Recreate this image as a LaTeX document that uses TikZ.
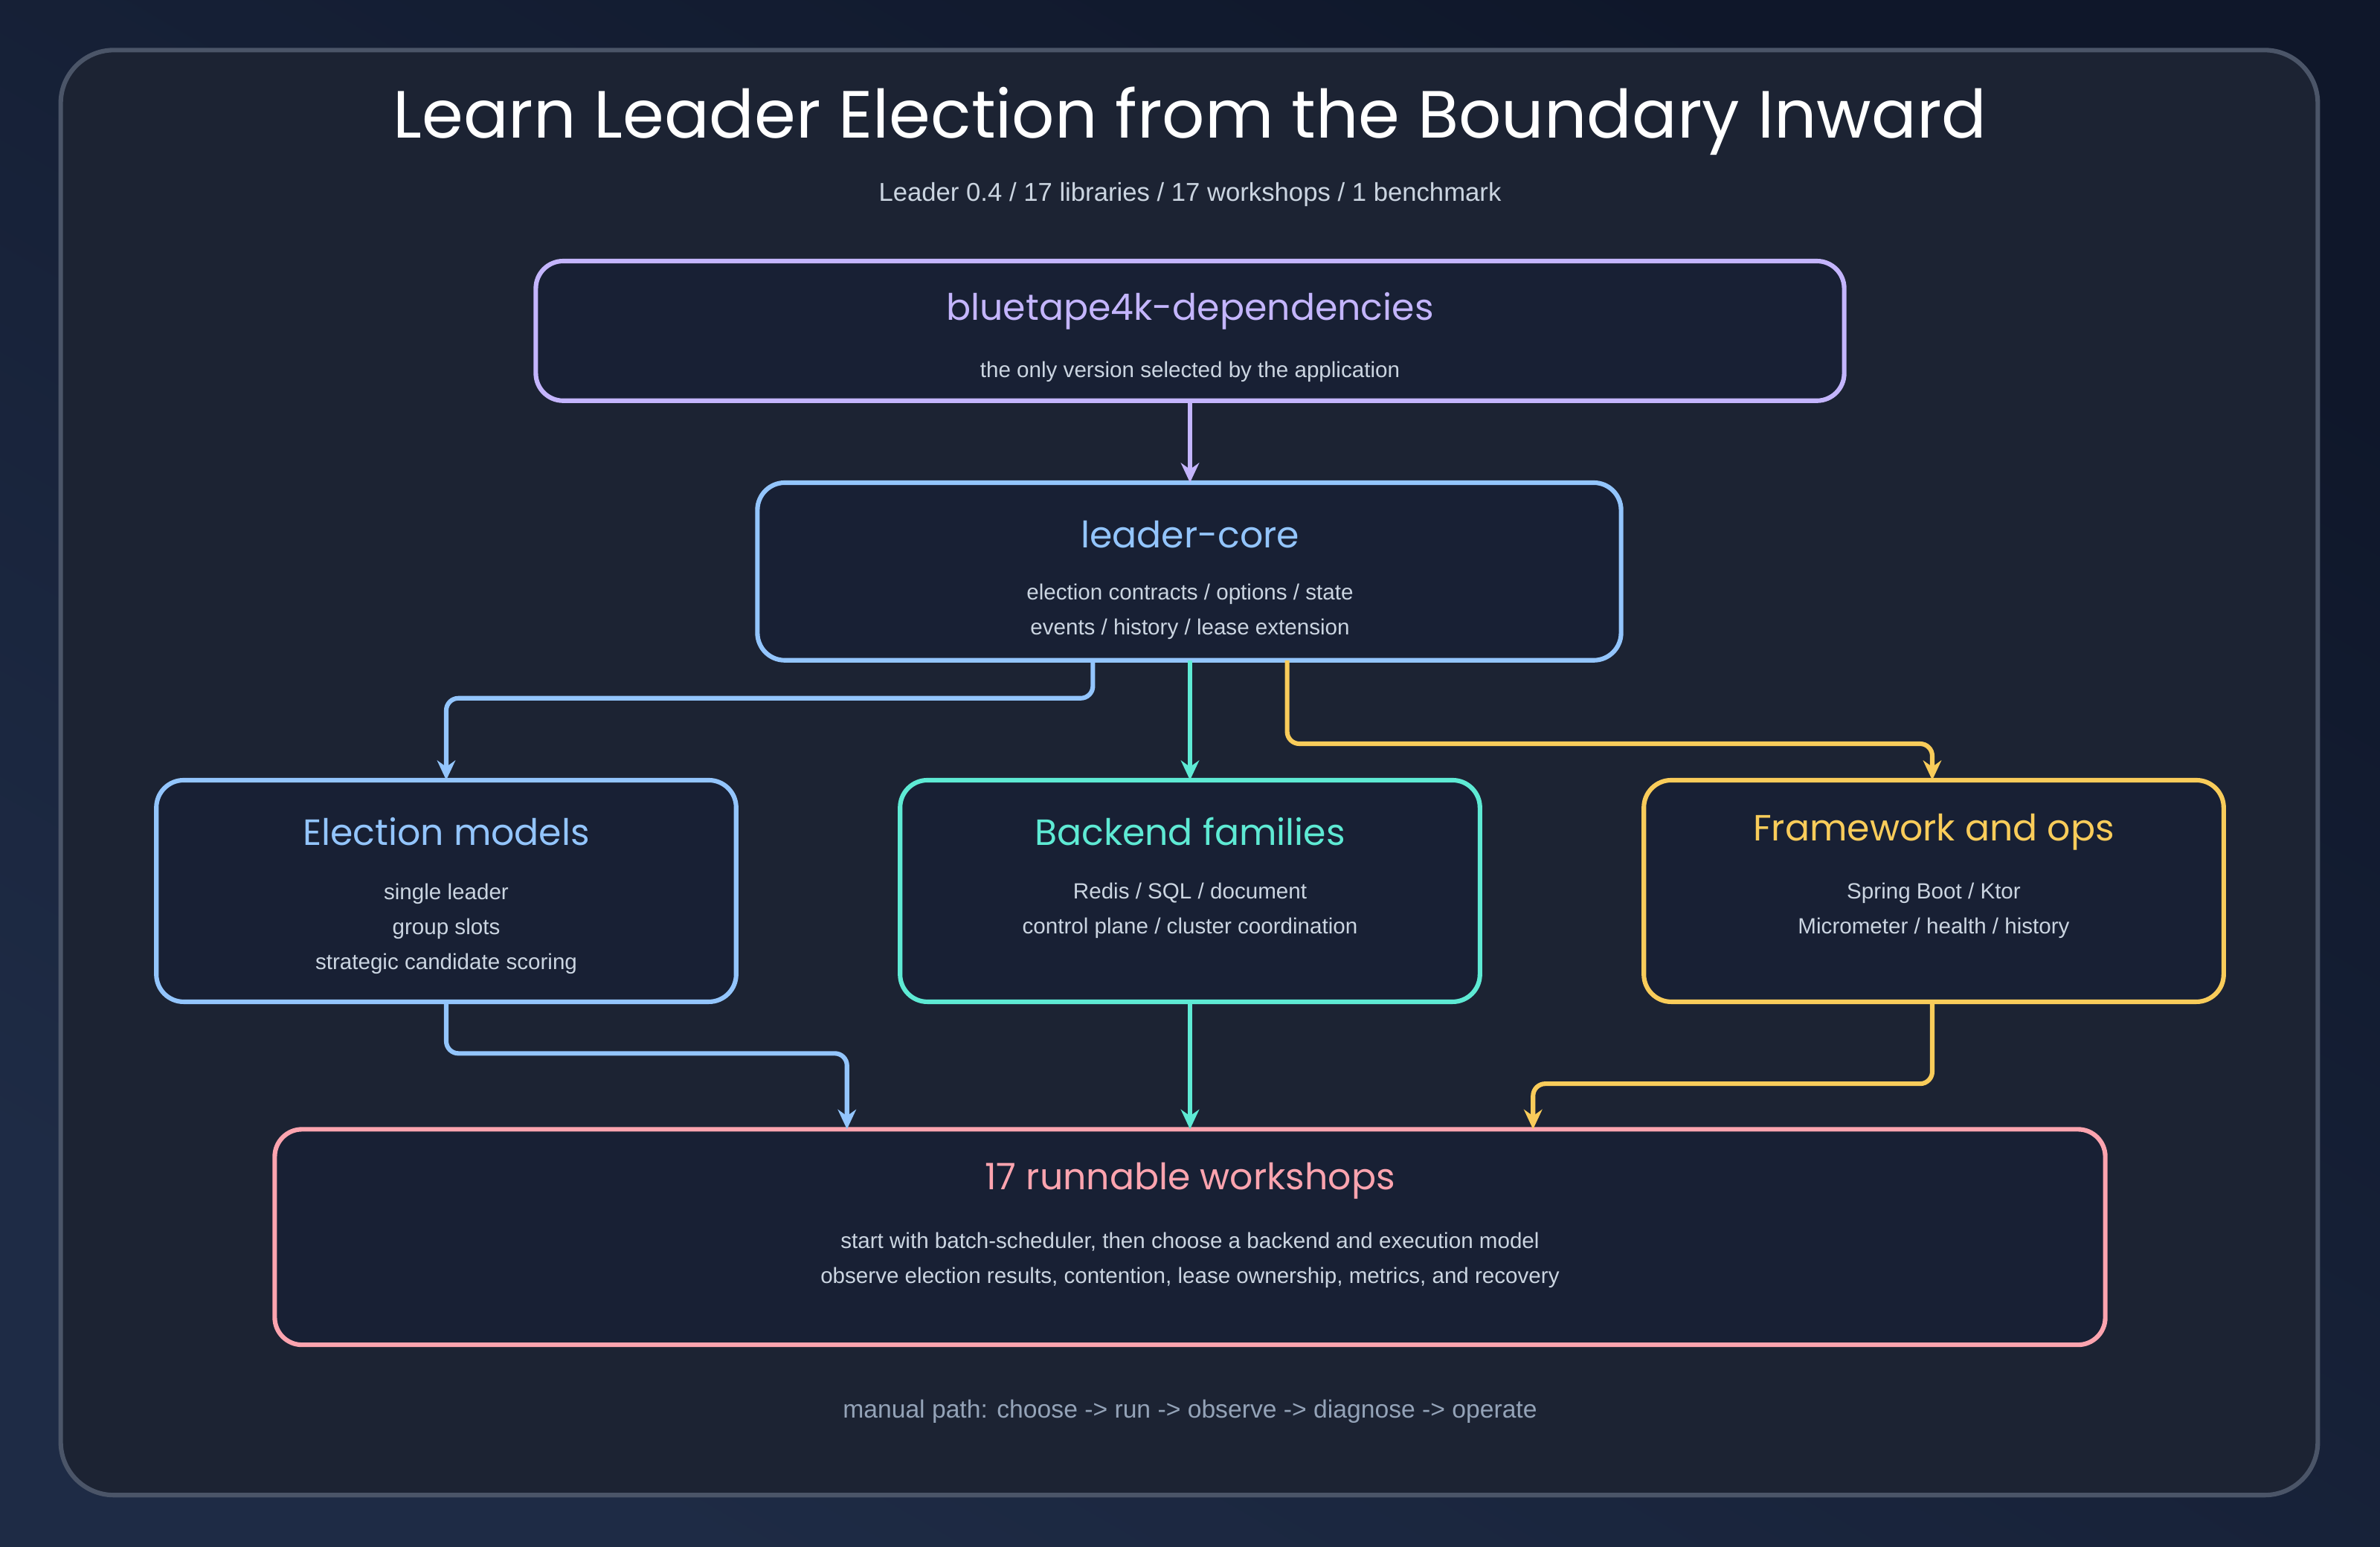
\documentclass[tikz,border=0pt]{standalone}
\usepackage{fontspec}
\usetikzlibrary{arrows.meta}
\setmainfont{Liberation Sans}
\newfontfamily\headfont{Poppins}
\begin{document}
\begin{tikzpicture}[x=1pt,y=-1pt,
  box/.style={draw=#1,line width=3pt,rounded corners=18pt,fill=boxbg},
  ttl/.style={font=\headfont\fontsize{24}{28}\selectfont,text=#1},
  sub/.style={font=\fontsize{14.5}{17}\selectfont,text=subc,align=center},
  arr/.style={draw=#1,line width=3pt,rounded corners=8pt,-{Stealth[length=13pt,width=12pt]}}]
\definecolor{bgA}{HTML}{0F172A}\definecolor{bgB}{HTML}{1E2B45}
\definecolor{panel}{HTML}{1C2333}\definecolor{boxbg}{HTML}{182034}
\definecolor{edge}{HTML}{4B5568}\definecolor{subc}{HTML}{CBD5E1}
\definecolor{pur}{HTML}{C4B5FD}\definecolor{blu}{HTML}{93C5FD}
\definecolor{tea}{HTML}{5EEAD4}\definecolor{yel}{HTML}{F9CC5A}
\definecolor{pnk}{HTML}{FDA4AF}\definecolor{foot}{HTML}{94A3B8}
\useasboundingbox (0,0) rectangle (1568,1019);
\shade[top color=bgA,bottom color=bgB,shading angle=-30] (0,0) rectangle (1568,1019);
\draw[edge,line width=3pt,fill=panel,rounded corners=35pt] (40,33) rectangle (1527,985);
\node[font=\headfont\fontsize{44}{50}\selectfont,text=white] (title) at (784,80) {Learn Leader Election from the Boundary Inward};
\node[font=\fontsize{17}{20}\selectfont,text=subc] (subt) at (784,128) {Leader 0.4 / 17 libraries / 17 workshops / 1 benchmark};
% boxes
\draw[box=pur] (353,172) rectangle (1215,264);
\coordinate (b1) at (784,264);
\node[ttl=pur] (t1) at (784,205) {bluetape4k-dependencies};
\node[sub] (s1) at (784,245) {the only version selected by the application};
\draw[box=blu] (499,318) rectangle (1068,435);
\node[ttl=blu] (t2) at (784,352) {leader-core};
\node[sub] (s2) at (784,403) {election contracts / options / state\\[6pt]events / history / lease extension};
\draw[box=blu] (103,514) rectangle (485,660);
\node[ttl=blu] (t3) at (294,548) {Election models};
\node[sub] (s3) at (294,612) {single leader\\[6pt]group slots\\[6pt]strategic candidate scoring};
\draw[box=tea] (593,514) rectangle (975,660);
\node[ttl=tea] (t4) at (784,548) {Backend families};
\node[sub] (s4) at (784,600) {Redis / SQL / document\\[6pt]control plane / cluster coordination};
\draw[box=yel] (1083,514) rectangle (1465,660);
\node[ttl=yel] (t5) at (1274,548) {Framework and ops};
\node[sub] (s5) at (1274,600) {Spring Boot / Ktor\\[6pt]Micrometer / health / history};
\draw[box=pnk] (181,744) rectangle (1387,886);
\node[ttl=pnk] (t6) at (784,778) {17 runnable workshops};
\node[sub] (s6) at (784,830) {start with batch-scheduler, then choose a backend and execution model\\[6pt]observe election results, contention, lease ownership, metrics, and recovery};
\node[font=\fontsize{16.5}{20}\selectfont,text=foot] (ft) at (784,930) {manual path: choose -> run -> observe -> diagnose -> operate};
% connectors
\coordinate (a1) at (784,318);
\draw[arr=pur] (b1) -- (a1);
\coordinate (c2l) at (720,435); \coordinate (c2m) at (784,435); \coordinate (c2r) at (848,435);
\coordinate (i3) at (294,514); \coordinate (i4) at (784,514); \coordinate (i5) at (1273,514);
\draw[arr=blu] (c2l) -- (720,460) -- (294,460) -- (i3);
\draw[arr=tea] (c2m) -- (i4);
\draw[arr=yel] (c2r) -- (848,490) -- (1273,490) -- (i5);
\coordinate (o3) at (294,660); \coordinate (o4) at (784,660); \coordinate (o5) at (1273,660);
\coordinate (j3) at (558,744); \coordinate (j4) at (784,744); \coordinate (j5) at (1010,744);
\draw[arr=blu] (o3) -- (294,694) -- (558,694) -- (j3);
\draw[arr=tea] (o4) -- (j4);
\draw[arr=yel] (o5) -- (1273,714) -- (1010,714) -- (j5);
\end{tikzpicture}
\end{document}
